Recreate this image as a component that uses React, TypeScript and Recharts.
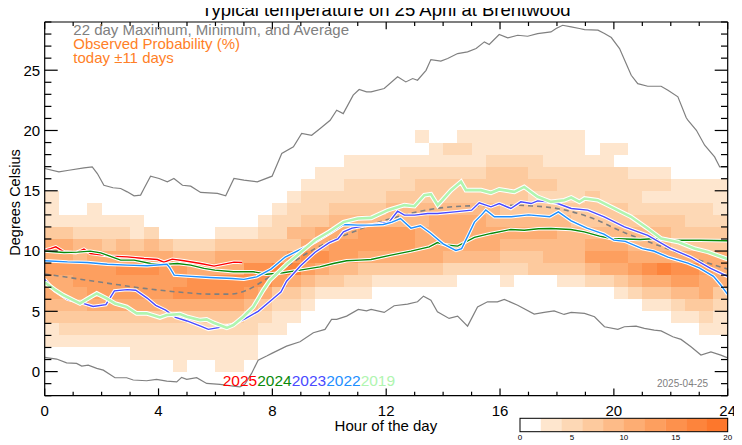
import React from 'react';
import { ComposedChart, Line, XAxis, YAxis, ReferenceArea } from 'recharts';

// axis ticks
const hourTicks = [0, 1, 2, 3, 4, 5, 6, 7, 8, 9, 10, 11, 12, 13, 14, 15, 16, 17, 18, 19, 20, 21, 22, 23, 24];
const tempTicks = [-2, -1, 0, 1, 2, 3, 4, 5, 6, 7, 8, 9, 10, 11, 12, 13, 14, 15, 16, 17, 18, 19, 20, 21, 22, 23, 24, 25, 26, 27, 28, 29];

// observed probability bins (0-2,2-4,...,18-20 %)
const probColours = ['#ffffff', '#fee6ce', '#fdd8b5', '#fdca9e', '#fdbb88', '#fdad73', '#fd9f5f', '#fd914d', '#fd843c', '#fd772c'];
const probLabels = [0, 5, 10, 15, 20];

// heatmap: one string per 1 degree row (top row = 19..20 C), one char per half hour, value = bin index
const probTopTemp = 19;
const probRows = [
  '000000000000000000000000001001111111110000000000',
  '000000000000000000000000000122111111110110000000',
  '000000000000000000000111111111122221111100000000',
  '000000000000000000011111122222233322222221110000',
  '000000000000000000111222223333333333222222221111',
  '100000000000000001222222333333333322223222111111',
  '100100000000000012223333444444443333333332222221',
  '111111100000000122334444444555544444433333333222',
  '332222120000111224455566665555555555444444443333',
  '554434343222333333556666665555554444445554443333',
  '554555555444555556776655555544443334446665555555',
  '666667776655557788654433333322222233334556787765',
  '556666666677777765433221111110001000112234556655',
  '555666666777776533211110000000000000000012334453',
  '444555555555554322100000000000000000000000112332',
  '333333333333332211000000000000000000000000001121',
  '122222222222222110000000000000000000000000000011',
  '111111111111111000000000000000000000000000000000',
  '000000111111111000000000000000000000000000000000',
  '000000000100110000000000000000000000000000000000',
];

// 22 day maximum, minimum and average  [hour, degC]
const max22 = [
  [0, 16.85], [0.5, 16.57], [0.85, 16.7], [1.38, 16.9], [1.67, 16.98], [1.85, 16.43], [2.08, 15.46], [2.4, 15.25], [2.67, 15.19],
  [2.9, 14.91], [3.14, 14.58], [3.37, 14.64], [3.49, 15.19], [3.72, 16.21], [4.02, 16.02], [4.31, 15.74], [4.54, 16.02], [4.84, 15.46],
  [5.13, 15.38], [5.48, 14.86], [6.07, 14.78], [6.36, 14.58], [6.65, 16.02], [7.0, 15.88], [7.47, 15.74], [7.99, 16.21], [8.33, 18.1],
  [8.74, 18.64], [9.03, 19.75], [9.38, 19.6], [9.68, 20.17], [10.03, 20.85], [10.26, 21.68], [10.49, 21.4], [10.84, 22.93], [11.05, 23.4],
  [11.31, 23.2], [11.47, 23.2], [11.93, 23.48], [12.4, 24.45], [12.69, 24.03], [12.93, 24.31], [13.1, 24.17], [13.4, 24.99], [13.57, 25.88],
  [13.92, 25.75], [14.16, 25.97], [14.51, 26.38], [14.86, 26.52], [15.16, 26.8], [15.45, 27.35], [15.62, 27.13], [15.97, 27.96],
  [16.27, 27.68], [16.62, 27.9], [16.97, 27.82], [17.32, 28.04], [17.79, 28.18], [17.97, 28.46], [18.2, 28.73], [18.5, 28.59],
  [18.79, 28.46], [18.97, 28.37], [19.44, 28.32], [19.67, 28.04], [19.91, 27.71], [20.2, 26.8], [20.43, 25.55], [20.61, 24.58],
  [20.84, 23.89], [21.19, 23.67], [21.66, 23.67], [21.9, 23.34], [22.25, 22.79], [22.54, 21.08], [22.6, 20.85], [22.9, 20.02],
  [23.19, 18.78], [23.54, 17.81], [23.72, 16.98], [24, 16.98],
];
const min22 = [
  [0, 1.18], [0.42, 1.04], [0.77, 0.73], [1.12, 0.68], [1.3, 0.46], [1.53, 0.54], [1.83, 0.27], [2.06, 0.12], [2.47, -0.51], [2.88, -0.51],
  [3.11, -0.7], [3.58, -0.76], [3.93, -0.65], [4.29, -0.79], [4.64, -0.85], [4.81, -0.48], [4.99, -0.65], [5.34, -0.51], [5.69, -0.98],
  [6.16, -1.06], [6.63, -1.2], [6.86, -1.26], [7.04, -1.04], [7.27, -0.15], [7.5, 0.95], [7.8, 1.29], [7.98, 1.51], [8.5, 2.11],
  [8.97, 2.47], [9.44, 3.22], [9.85, 3.5], [10.08, 4.33], [10.26, 4.33], [10.61, 4.6], [11.02, 5.16], [11.31, 5.04], [11.47, 5.16],
  [11.93, 4.91], [12.28, 5.46], [12.75, 5.6], [13.1, 5.79], [13.31, 6.26], [13.57, 5.93], [13.8, 4.96], [14.21, 4.41], [14.51, 4.6],
  [14.86, 3.77], [15.21, 5.37], [15.56, 5.79], [15.91, 5.79], [16.15, 5.99], [16.62, 5.51], [17.2, 4.77], [17.55, 4.91], [17.9, 5.04],
  [18.25, 4.74], [18.5, 4.91], [18.97, 4.83], [19.32, 4.55], [19.67, 3.72], [20.14, 3.5], [20.37, 3.72], [20.78, 3.77], [21.07, 3.58],
  [21.42, 3.44], [21.66, 3.38], [22.07, 2.89], [22.36, 2.67], [22.71, 2.06], [23.06, 1.37], [23.41, 1.64], [23.76, 1.37], [24, 1.14],
];
const avg22 = [
  [0, 8.1], [1.15, 7.7], [2.3, 7.3], [3.5, 6.9], [4.7, 6.6], [5.8, 6.43], [6.5, 6.43], [7.1, 6.75], [7.7, 7.55], [8.0, 8.0], [8.5, 8.7],
  [9.0, 9.5], [9.5, 10.2], [10.0, 10.8], [10.7, 11.45], [11.5, 12.2], [12.4, 12.85], [13.2, 13.3], [14.0, 13.6], [15.0, 13.75],
  [16.4, 13.8], [17.8, 13.6], [19.1, 12.85], [20.4, 11.5], [21.7, 10.35], [22.8, 9.4], [24, 8.5],
];

// individual years on 25 April  [hour, degC]
const y2025 = [
  [0, 10.07], [0.2, 10.2], [0.39, 10.35], [0.68, 9.93], [1.09, 9.85], [1.38, 10.16], [1.6, 9.8], [1.97, 9.69], [2.32, 9.58], [2.9, 9.52],
  [3.49, 9.38], [3.96, 9.3], [4.19, 9.08], [4.48, 9.33], [4.89, 9.19], [5.48, 8.97], [5.95, 8.75], [6.3, 8.91], [6.65, 9.08], [6.94, 9.05],
];
const y2024 = [
  [0, 9.99], [0.68, 9.88], [1.15, 9.91], [1.6, 9.99], [1.97, 9.85], [2.67, 9.25], [3.14, 9.25], [3.72, 8.97], [4.19, 8.89], [4.66, 8.97],
  [5.13, 8.83], [5.6, 8.56], [5.98, 8.42], [6.63, 8.28], [7.33, 8.28], [7.8, 8.08], [8.38, 8.2], [8.97, 8.42], [9.67, 8.69], [10.14, 8.97],
  [10.61, 9.19], [11.08, 9.25], [11.47, 9.3], [12.17, 9.66], [12.87, 9.99], [13.51, 10.35], [13.8, 10.7], [14.1, 10.5], [14.51, 10.41],
  [15.1, 11.13], [15.68, 11.46], [16.38, 11.79], [16.85, 11.73], [17.35, 11.85], [17.79, 11.87], [18.49, 11.79], [18.96, 11.59],
  [19.5, 11.24], [19.9, 11.04], [20.92, 10.96], [21.5, 11.04], [22.09, 10.9], [22.59, 10.9], [23.03, 10.9], [24, 10.85],
];
const y2023 = [
  [0, 7.65], [0.35, 6.7], [0.8, 6.0], [1.3, 5.7], [1.7, 5.4], [2.15, 5.55], [2.45, 6.7], [2.9, 6.8], [3.2, 6.75], [3.6, 6.1], [3.9, 5.5],
  [4.25, 5.1], [4.6, 4.5], [5.0, 4.2], [5.5, 3.75], [5.75, 3.5], [6.1, 3.65], [6.6, 3.9], [7.05, 4.4], [7.5, 5.0], [7.95, 5.9], [8.3, 6.6],
  [8.5, 7.5], [9.0, 8.8], [9.5, 9.9], [10.0, 10.7], [10.3, 11.0], [10.5, 11.6], [10.8, 11.9], [11.4, 12.15], [12.1, 12.4], [12.4, 13.3],
  [12.64, 12.98], [13.0, 12.98], [13.46, 13.12], [13.8, 13.12], [14.4, 13.25], [15.0, 13.39], [15.27, 14.0], [15.68, 13.67],
  [15.97, 13.94], [16.38, 13.53], [16.73, 14.08], [17.09, 13.94], [17.32, 14.16], [17.67, 14.08], [18.03, 13.94], [18.5, 13.53],
  [19.08, 13.39], [19.66, 12.84], [20.37, 12.0], [21.19, 11.3], [22.0, 10.2], [22.7, 9.5], [23.4, 8.56], [24, 7.9],
];
const y2022 = [
  [0, 9.2], [0.8, 9.1], [1.5, 9.05], [2.2, 8.9], [2.9, 8.83], [3.6, 8.78], [4.3, 8.9], [4.4, 8.6], [4.55, 8.0], [5.0, 7.92], [5.8, 7.8],
  [6.6, 7.72], [7.0, 7.65], [7.45, 7.86], [7.95, 8.5], [8.45, 9.5], [9.05, 10.2], [9.5, 10.75], [10.1, 11.6], [10.5, 12.2], [11.0, 12.15],
  [11.5, 12.15], [11.9, 12.2], [12.2, 12.4], [12.5, 12.7], [12.87, 11.9], [13.2, 12.1], [13.55, 11.5], [14.0, 10.6], [14.45, 10.05],
  [14.65, 10.2], [14.9, 11.4], [15.1, 12.4], [15.35, 13.0], [15.5, 13.4], [15.8, 12.85], [16.4, 12.85], [17.0, 13.0], [17.75, 12.85],
  [18.05, 13.25], [18.5, 12.5], [19.05, 11.9], [19.65, 11.4], [20.0, 10.9], [20.4, 10.8], [21.0, 10.2], [21.4, 10.0], [21.9, 9.5],
  [22.6, 9.0], [23.0, 8.6], [23.5, 7.9], [23.75, 7.2], [24, 6.4],
];
const y2019 = [
  [0, 7.4], [0.35, 6.8], [0.65, 6.34], [1.24, 5.65], [1.55, 6.1], [1.83, 6.48], [2.18, 6.07], [2.47, 5.65], [2.88, 5.37], [3.23, 4.83],
  [3.58, 4.83], [4.05, 4.49], [4.29, 4.69], [4.75, 4.77], [4.99, 4.55], [5.46, 4.27], [5.69, 4.33], [5.93, 4.05], [6.4, 3.63], [6.63, 3.86],
  [6.98, 4.55], [7.33, 5.37], [7.68, 6.76], [7.92, 7.59], [8.5, 8.9], [9.0, 9.9], [9.5, 10.9], [10.0, 11.6], [10.5, 12.4], [11.0, 12.7],
  [11.47, 12.75], [12.06, 13.39], [12.64, 13.81], [12.99, 13.72], [13.34, 14.64], [13.57, 14.72], [13.81, 13.81], [14.28, 15.05],
  [14.63, 15.74], [14.8, 15.05], [15.33, 15.05], [15.68, 14.83], [15.97, 15.11], [16.5, 14.91], [16.85, 15.32], [17.32, 14.5],
  [17.79, 14.08], [18.26, 14.22], [18.5, 14.44], [18.79, 14.08], [18.97, 14.36], [19.43, 14.22], [19.9, 13.67], [20.6, 12.84],
  [21.19, 11.87], [21.66, 11.04], [22.25, 10.76], [22.83, 10.21], [23.3, 9.93], [23.94, 9.38], [24, 9.35],
];

const years = [
  { name: '2025', colour: '#ff0000', pts: y2025, width: 1.4 },
  { name: '2024', colour: '#0a8a0a', pts: y2024, width: 1.4 },
  { name: '2023', colour: '#4a4aff', pts: y2023, width: 1.4 },
  { name: '2022', colour: '#1e8fff', pts: y2022, width: 1.4 },
  { name: '2019', colour: '#b0f5b0', pts: y2019, width: 2.6 },
];

const FONT = '"Liberation Sans", Arial, Helvetica, sans-serif';

const toPts = (arr: number[][]) => arr.map(([h, t]) => ({ h, t }));

const cells = probRows.flatMap((row, r) =>
  row.split('').map((ch, c) => ({
    h0: c / 2,
    h1: c / 2 + 0.5,
    t0: probTopTemp - r,
    t1: probTopTemp - r + 1,
    lvl: Number(ch),
  })).filter((d) => d.lvl > 0)
);

function LeftTick(props: any) {
  const { x, y, payload } = props;
  const v = payload.value;
  const major = v % 5 === 0;
  return (
    <g>
      <line x1={x} y1={y} x2={x + (major ? 13 : 6.7)} y2={y} stroke="#000" strokeWidth={1.2} />
      {major && v >= 0 && (
        <text x={x - 4.5} y={y + 5.3} textAnchor="end" fontSize={15} fontFamily={FONT} fill="#000">{v}</text>
      )}
    </g>
  );
}

function RightTick(props: any) {
  const { x, y, payload } = props;
  const major = payload.value % 5 === 0;
  return <line x1={x} y1={y} x2={x - (major ? 13 : 6.7)} y2={y} stroke="#000" strokeWidth={1.2} />;
}

function BottomTick(props: any) {
  const { x, y, payload } = props;
  const v = payload.value;
  const major = v % 4 === 0;
  return (
    <g>
      <line x1={x} y1={y} x2={x} y2={y - (major ? 7.3 : 4)} stroke="#000" strokeWidth={1.2} />
      {major && (
        <text x={x} y={y + 19.8} textAnchor="middle" fontSize={15} fontFamily={FONT} fill="#000">{v}</text>
      )}
    </g>
  );
}

function TopTick(props: any) {
  const { x, y, payload } = props;
  const major = payload.value % 4 === 0;
  return <line x1={x} y1={y} x2={x} y2={y + (major ? 7.3 : 4)} stroke="#000" strokeWidth={1.2} />;
}

export default function App() {
  const barX = 512;
  const barW = 207.7;
  const binW = barW / probColours.length;
  return (
    <div style={{ position: 'relative', width: 734, height: 437 }}>
      <ComposedChart width={734} height={437} margin={{ top: 13, right: 13.3, bottom: 0, left: 0 }}>
        <XAxis dataKey="h" type="number" domain={[0, 24]} ticks={hourTicks} interval={0} height={49.3}
          allowDataOverflow tickSize={0} tickMargin={0} tickLine={false} tick={<BottomTick />}
          axisLine={{ stroke: '#000', strokeWidth: 1.2 }} />
        <XAxis xAxisId="top" orientation="top" dataKey="h" type="number" domain={[0, 24]} ticks={hourTicks} interval={0}
          height={1} allowDataOverflow tickSize={0} tickMargin={0} tickLine={false} tick={<TopTick />}
          axisLine={{ stroke: '#000', strokeWidth: 1.2 }} />
        <YAxis type="number" domain={[-2, 29]} ticks={tempTicks} interval={0} width={36.7} allowDataOverflow
          tickSize={0} tickMargin={0} tickLine={false} tick={<LeftTick />}
          axisLine={{ stroke: '#000', strokeWidth: 1.2 }} />
        <YAxis yAxisId="right" orientation="right" type="number" domain={[-2, 29]} ticks={tempTicks} interval={0}
          width={1} allowDataOverflow tickSize={0} tickMargin={0} tickLine={false} tick={<RightTick />}
          axisLine={{ stroke: '#000', strokeWidth: 1.2 }} />

        {cells.map((d, i) => (
          <ReferenceArea key={'c' + i} x1={d.h0} x2={d.h1} y1={d.t0} y2={d.t1}
            fill={probColours[d.lvl]} fillOpacity={1} stroke="none" shapeRendering="crispEdges" />
        ))}

        <Line data={toPts(max22)} dataKey="t" type="linear" stroke="#808080" strokeWidth={1.2} dot={false}
          activeDot={false} isAnimationActive={false} legendType="none" />
        <Line data={toPts(min22)} dataKey="t" type="linear" stroke="#808080" strokeWidth={1.2} dot={false}
          activeDot={false} isAnimationActive={false} legendType="none" />
        <Line data={toPts(avg22)} dataKey="t" type="monotone" stroke="#808080" strokeWidth={1.6} strokeDasharray="5 4"
          dot={false} activeDot={false} isAnimationActive={false} legendType="none" />

        {years.flatMap((y) => [
          <Line key={y.name + 'halo'} data={toPts(y.pts)} dataKey="t" type="linear" stroke="#ffffff"
            strokeWidth={y.width + 2} dot={false} activeDot={false} isAnimationActive={false} legendType="none" />,
          <Line key={y.name} data={toPts(y.pts)} dataKey="t" type="linear" stroke={y.colour}
            strokeWidth={y.width} dot={false} activeDot={false} isAnimationActive={false} legendType="none" />,
        ])}
      </ComposedChart>

      <svg width={734} height={437} style={{ position: 'absolute', left: 0, top: 0, pointerEvents: 'none', overflow: 'visible' }}
        fontFamily={FONT}>
        <text x={377.9} y={7.5} textAnchor="middle" fontSize={18.5} fill="#000">Typical temperature on 25 April at Brentwood</text>
        <text x={65.3} y={26.7} fontSize={15} fill="#808080">22 day Maximum, Minimum, and Average</text>
        <text x={65.3} y={41} fontSize={15} fill="#ff7f27">Observed Probability (%)</text>
        <text x={65.3} y={55} fontSize={15} fill="#ff7f27">today ±11 days</text>
        <text x={214.7} y={378} fontSize={15.5}>
          {years.map((y) => (
            <tspan key={y.name} fill={y.colour}>{y.name}</tspan>
          ))}
        </text>
        <text x={649} y={379} fontSize={10} fill="#808080">2025-04-25</text>
        <text x={377.9} y={422.7} textAnchor="middle" fontSize={15} fill="#000">Hour of the day</text>
        <text transform="translate(11.5,194.5) rotate(-90)" textAnchor="middle" fontSize={14.5} fill="#000">Degrees Celsius</text>

        {probColours.map((c, i) => (
          <rect key={c} x={barX + i * binW} y={410.3} width={binW + 0.3} height={13.4} fill={c} />
        ))}
        <rect x={barX} y={410.3} width={barW} height={13.4} fill="none" stroke="#000" strokeWidth={1} />
        {probLabels.map((v) => (
          <text key={v} x={barX + (v / 20) * barW} y={432} textAnchor="middle" fontSize={8} fill="#000">{v}</text>
        ))}
      </svg>
    </div>
  );
}
